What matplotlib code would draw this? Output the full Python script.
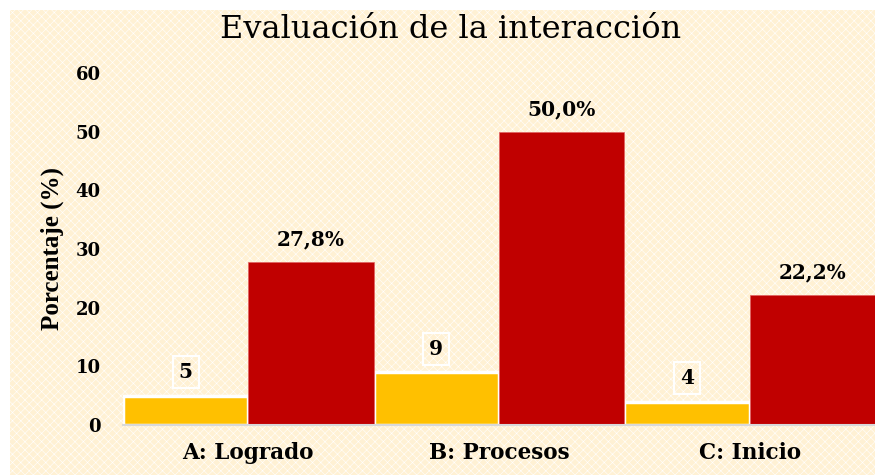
import matplotlib
matplotlib.use("Agg")
import matplotlib.pyplot as plt
import numpy as np
from matplotlib.patches import Rectangle

categories = ["A: Logrado", "B: Procesos", "C: Inicio"]
counts = [5, 9, 4]
percents = [27.8, 50.0, 22.2]
percent_labels = ["27,8%", "50,0%", "22,2%"]
yticks = [0, 10, 20, 30, 40, 50, 60]

WIDE = ['DejaVu Serif']
NARROW = ['Liberation Serif', 'DejaVu Serif']
plt.rcParams['font.family'] = WIDE
plt.rcParams['hatch.linewidth'] = 0.4

W, H = 875, 475
fig = plt.figure(figsize=(W/100, H/100), dpi=100, facecolor='white')

# patterned cream background
bg = Rectangle((10/W, 0), 1 - 10/W, 1 - 10/H, transform=fig.transFigure,
               facecolor='#FFF1D4', edgecolor='#FFFFFF', hatch='xxxx',
               linewidth=0, zorder=-10)
fig.patches.append(bg)

ax = fig.add_axes([123/W, 1 - 425/H, (W - 123)/W, (425 - 73)/H])
ax.set_facecolor('none')

x = np.arange(len(categories))
w = 0.5
ax.bar(x - w/2, counts, width=w, color='#FFC000', edgecolor='white',
       linewidth=2.5, zorder=2)
ax.bar(x + w/2, percents, width=w, color='#C00000', edgecolor='#E06060',
       linewidth=0.5, zorder=2)

for xi, c in zip(x, counts):
    ax.annotate(str(c), (xi - w/2, c), xytext=(0, 17), textcoords='offset points',
                ha='center', va='center', fontsize=14.5, fontweight='bold',
                bbox=dict(boxstyle='square,pad=0.3', facecolor='none',
                          edgecolor='white', linewidth=1.5), zorder=3)
for xi, p, lab in zip(x, percents, percent_labels):
    ax.annotate(lab, (xi + w/2, p), xytext=(0, 16), textcoords='offset points',
                ha='center', va='center', fontsize=14.5, fontweight='bold', zorder=3)

ax.set_xlim(-0.5, 2.5)
ax.set_ylim(0, 60)
ax.set_yticks(yticks)
ax.set_yticklabels([str(t) for t in yticks], fontsize=13, fontweight='bold')
ax.set_xticks(x)
ax.set_xticklabels(categories, fontsize=15.5, fontweight='bold')
ax.tick_params(axis='y', length=0, pad=16)
ax.tick_params(axis='x', length=0, pad=12)
for s in ['top', 'right', 'left']:
    ax.spines[s].set_visible(False)
ax.spines['bottom'].set_color('#D9D9D9')
ax.spines['bottom'].set_linewidth(1.5)

ax.set_ylabel("Porcentaje (%)", fontsize=18, fontweight='bold', labelpad=8,
              family=NARROW)
fig.text(451/W, 1 - 30/H, "Evaluación de la interacción", ha='center', va='center',
         fontsize=23)

fig.savefig("out.png", dpi=100, facecolor=fig.get_facecolor())
